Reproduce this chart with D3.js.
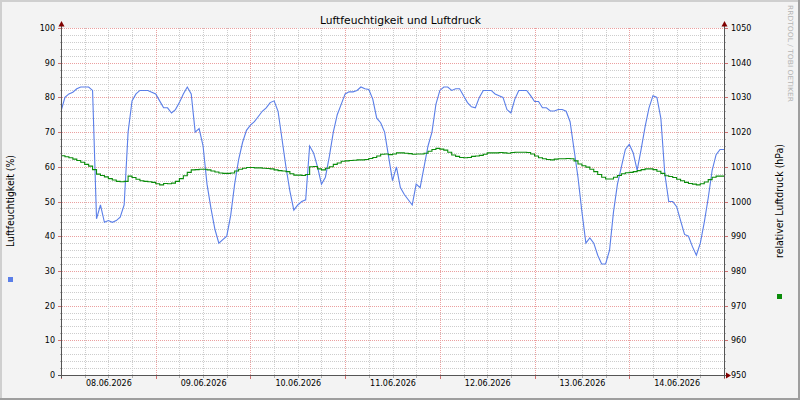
<!DOCTYPE html>
<html>
<head>
<meta charset="utf-8">
<script src="https://cdn.jsdelivr.net/npm/d3@7/dist/d3.min.js"></script>
<style>
  body { margin: 0; background: #f3f3f3; }
  text { font-family: "DejaVu Sans", sans-serif; }
</style>
</head>
<body>
<script>
// hourly readings, starting 08.06.2026 00:00
const humidity = [
  76, 80, 81, 81.5, 82.5, 83, 83, 83, 82, 45, 49, 44, 44.5, 44, 44.5, 45.5,
  49, 70, 79, 81, 82, 82, 82, 81.5, 81, 79, 77, 77, 75.5, 76.5, 78.5, 81,
  83, 81, 70, 71, 66, 55, 48, 42, 38, 39, 40, 46, 55, 62, 67, 70.5,
  72, 73, 74.5, 76, 77, 78.5, 79, 76, 68, 60, 53, 47.5, 49, 50, 50.5, 66,
  64, 60, 55, 57, 63, 70, 75, 78, 81, 81.6, 81.6, 82, 83, 82.5, 82.3, 79.5,
  74, 72.7, 70, 63, 56, 60, 54, 52, 50.5, 49, 55, 54, 60, 66, 70, 78,
  82, 83, 83, 82, 82.5, 82.5, 80.5, 78.5, 77.3, 77, 80, 82, 82, 82, 81, 80.5,
  80, 76.5, 75.5, 79.5, 82, 82, 82, 80.5, 78.8, 78.8, 77, 77, 76.1, 76.1, 76.5, 76.5,
  76, 73, 65, 57, 47, 38, 39.5, 38, 34.5, 32, 32, 36, 47, 55, 60, 65,
  66.5, 64, 59, 65, 71.5, 77, 80.5, 80, 74, 58, 50, 50, 48.5, 44.5, 40.5, 40,
  37, 34.5, 38, 44, 51, 59, 63.5, 65
];
const pressure = [
  1013.2, 1012.9, 1012.6, 1012.2, 1011.8, 1011.3, 1010.7, 1010.2, 1009.2, 1007.9, 1007.5, 1007.1, 1006.6, 1006.2, 1005.8, 1005.7,
  1005.8, 1007.3, 1006.9, 1006.4, 1006.0, 1005.8, 1005.7, 1005.5, 1005.1, 1004.8, 1005.2, 1005.1, 1005.3, 1005.8, 1006.6, 1007.4,
  1008.4, 1009.1, 1009.2, 1009.3, 1009.3, 1009.1, 1008.8, 1008.5, 1008.2, 1008.1, 1008.1, 1008.2, 1008.8, 1009.3, 1009.6, 1009.8,
  1009.8, 1009.7, 1009.7, 1009.6, 1009.5, 1009.4, 1009.1, 1008.9, 1008.8, 1008.6, 1008.0, 1007.6, 1007.6, 1007.5, 1007.8, 1010.0,
  1010.1, 1009.4, 1009.1, 1009.6, 1010.0, 1010.7, 1011.1, 1011.6, 1011.7, 1011.8, 1011.9, 1012.0, 1012.0, 1012.1, 1012.4, 1012.7,
  1013.1, 1013.6, 1013.7, 1013.5, 1013.7, 1014.0, 1014.0, 1013.9, 1013.8, 1013.6, 1013.7, 1013.7, 1013.9, 1014.5, 1015.0, 1015.3,
  1015.1, 1014.8, 1014.2, 1013.4, 1013.0, 1012.7, 1012.6, 1012.7, 1013.0, 1013.1, 1013.3, 1013.6, 1014.0, 1014.0, 1014.0, 1014.1,
  1014.0, 1013.9, 1014.1, 1014.2, 1014.2, 1014.2, 1014.1, 1013.7, 1013.1, 1012.6, 1012.3, 1012.1, 1012.0, 1012.2, 1012.3, 1012.3,
  1012.4, 1012.3, 1011.7, 1010.8, 1010.3, 1009.9, 1009.3, 1008.6, 1007.8, 1007.0, 1006.5, 1006.5, 1007.0, 1007.5, 1008.0, 1008.3,
  1008.4, 1008.6, 1008.9, 1009.2, 1009.4, 1009.4, 1009.2, 1008.7, 1008.1, 1007.4, 1007.2, 1006.9, 1006.4, 1006.0, 1005.5, 1005.2,
  1005.0, 1004.8, 1005.1, 1005.6, 1006.3, 1007.0, 1007.3, 1007.3
];
const days = ["08.06.2026", "09.06.2026", "10.06.2026", "11.06.2026", "12.06.2026", "13.06.2026", "14.06.2026", "15.06.2026"];
const leftTicks = [0, 10, 20, 30, 40, 50, 60, 70, 80, 90, 100];
const rightTicks = [950, 960, 970, 980, 990, 1000, 1010, 1020, 1030, 1040, 1050];

const title = "Luftfeuchtigkeit und Luftdruck";
const leftLabel = "Luftfeuchtigkeit (%)";
const rightLabel = "relativer Luftdruck (hPa)";
const humColor = "#5a7ee8";
const presColor = "#0a8c0a";

const W = 800, H = 400;
const X0 = 61, X1 = 724, Y0 = 375, Y1 = 28;

const parseDay = d3.timeParse("%d.%m.%Y");
const dayDates = days.map(parseDay);
const start = dayDates[0];
const end = dayDates[dayDates.length - 1];

const x = d3.scaleTime().domain([start, end]).range([X0, X1]);
const yL = d3.scaleLinear().domain([0, 100]).range([Y0, Y1]);
const yR = d3.scaleLinear().domain([950, 1050]).range([Y0, Y1]);

const px = v => Math.round(v) + 0.5;

const svg = d3.select("body").append("svg")
    .attr("width", W)
    .attr("height", H);

// dotted grid patterns (1px on, 1px off)
const defs = svg.append("defs");
function dotPattern(id, color, horizontal) {
    const p = defs.append("pattern").attr("id", id)
        .attr("patternUnits", "userSpaceOnUse")
        .attr("width", horizontal ? 2 : 1).attr("height", horizontal ? 1 : 2);
    p.append("rect").attr("width", 1).attr("height", 1).attr("fill", color);
}
const majorGrid = "#eba0a0";
const minorGrid = "#cdcdcd";
dotPattern("hMajor", majorGrid, true);
dotPattern("hMinor", minorGrid, true);
dotPattern("vMajor", majorGrid, false);
dotPattern("vMinor", minorGrid, false);

// background + shaded frame
svg.append("rect").attr("width", W).attr("height", H).attr("fill", "#f3f3f3");
svg.append("path").attr("d", `M0,1H${W}M1,0V${H}`).attr("stroke", "#cfcfcf").attr("stroke-width", 2);
svg.append("path").attr("d", `M0,${H - 1}H${W}M${W - 1},0V${H}`).attr("stroke", "#9e9e9e").attr("stroke-width", 2);

svg.append("rect")
    .attr("x", X0).attr("y", Y1)
    .attr("width", X1 - X0).attr("height", Y0 - Y1)
    .attr("fill", "#ffffff");

// grid
const grid = svg.append("g").attr("shape-rendering", "crispEdges");

d3.range(0, 101, 2).forEach(v => {
    const major = v % 10 === 0;
    const y = Math.round(yL(v));
    grid.append("rect")
        .attr("x", X0 + 1).attr("y", y).attr("width", X1 - X0 - 1).attr("height", 1)
        .attr("fill", major ? "url(#hMajor)" : "url(#hMinor)");
    grid.append("rect")
        .attr("x", X0 - (major ? 3 : 1)).attr("y", y).attr("width", major ? 3 : 1).attr("height", 1)
        .attr("fill", major ? "#d07070" : "#b0b0b0");
    grid.append("rect")
        .attr("x", X1 + 1).attr("y", y).attr("width", major ? 3 : 1).attr("height", 1)
        .attr("fill", major ? "#d07070" : "#b0b0b0");
});

d3.timeHour.every(6).range(start, d3.timeHour.offset(end, 1)).forEach(t => {
    const major = t.getHours() === 0;
    const xx = Math.round(x(t));
    if (xx > X0 + 1 && xx < X1 - 1) {
        grid.append("rect")
            .attr("x", xx).attr("y", Y1).attr("width", 1).attr("height", Y0 - Y1)
            .attr("fill", major ? "url(#vMajor)" : "url(#vMinor)");
    }
    grid.append("rect")
        .attr("x", xx).attr("y", Y0 + 1).attr("width", 1).attr("height", major ? 3 : 2)
        .attr("fill", major ? "#d07070" : "#b0b0b0");
});

// series
const times = humidity.map((d, i) => d3.timeHour.offset(start, i));
const humData = humidity.map((v, i) => ({ t: times[i], v }));
humData.push({ t: end, v: humidity[humidity.length - 1] });
const presData = pressure.map((v, i) => ({ t: times[i], v }));
presData.push({ t: end, v: pressure[pressure.length - 1] });

svg.append("clipPath").attr("id", "plot")
    .append("rect").attr("x", X0).attr("y", Y1).attr("width", X1 - X0).attr("height", Y0 - Y1);

const lineL = d3.line().x(d => x(d.t)).y(d => yL(d.v));
const lineR = d3.line().x(d => x(d.t)).y(d => yR(d.v)).curve(d3.curveStepAfter);

const plot = svg.append("g").attr("clip-path", "url(#plot)");
plot.append("path")
    .datum(humData)
    .attr("d", lineL)
    .attr("fill", "none")
    .attr("stroke", humColor)
    .attr("stroke-width", 1.1);
plot.append("path")
    .datum(presData)
    .attr("d", lineR)
    .attr("fill", "none")
    .attr("stroke", presColor)
    .attr("stroke-width", 1.1);

// axes lines + arrows
const axisCol = "#555555";
const arrowCol = "#800000";
const frame = svg.append("g").attr("shape-rendering", "crispEdges").attr("stroke", axisCol);
frame.append("line").attr("x1", px(X0)).attr("x2", px(X0)).attr("y1", 23).attr("y2", Y0 + 3);
frame.append("line").attr("x1", px(X1)).attr("x2", px(X1)).attr("y1", 23).attr("y2", Y0 + 3);
frame.append("line").attr("x1", X0 - 3).attr("x2", X1 + 3).attr("y1", px(Y0)).attr("y2", px(Y0));

svg.append("path").attr("fill", arrowCol)
    .attr("d", `M${X0 - 2.5},26.5L${X0 + 3.5},26.5L${X0 + 0.5},21z`);
svg.append("path").attr("fill", arrowCol)
    .attr("d", `M${X1 - 2.5},26.5L${X1 + 3.5},26.5L${X1 + 0.5},21z`);
svg.append("path").attr("fill", arrowCol)
    .attr("d", `M${X1 + 2},${Y0 - 2.5}L${X1 + 2},${Y0 + 3.5}L${X1 + 7},${Y0 + 0.5}z`);

// tick labels
const fmt = d3.timeFormat("%d.%m.%Y");
const noons = dayDates.slice(0, -1).map(d => d3.timeHour.offset(d, 12));

svg.append("g")
    .attr("transform", `translate(${X0},0)`)
    .call(d3.axisLeft(yL).tickValues(leftTicks).tickFormat(d3.format("d")).tickSize(0).tickPadding(6))
    .call(g => g.select(".domain").remove())
    .selectAll("text").attr("font-size", 8).attr("font-family", "DejaVu Sans").attr("fill", "#000");

svg.append("g")
    .attr("transform", `translate(${X1},0)`)
    .call(d3.axisRight(yR).tickValues(rightTicks).tickFormat(d3.format("d")).tickSize(0).tickPadding(7))
    .call(g => g.select(".domain").remove())
    .selectAll("text").attr("font-size", 8).attr("font-family", "DejaVu Sans").attr("fill", "#000");

svg.append("g")
    .attr("transform", `translate(0,${Y0})`)
    .call(d3.axisBottom(x).tickValues(noons).tickFormat(fmt).tickSize(0).tickPadding(5))
    .call(g => g.select(".domain").remove())
    .selectAll("text").attr("font-size", 8).attr("font-family", "DejaVu Sans").attr("fill", "#000");

// title and labels
svg.append("text")
    .attr("x", 400.5).attr("y", 24)
    .attr("text-anchor", "middle")
    .attr("font-size", 10.5)
    .attr("textLength", 161).attr("lengthAdjust", "spacingAndGlyphs")
    .text(title);

svg.append("text")
    .attr("transform", "translate(14,201) rotate(-90)")
    .attr("text-anchor", "middle")
    .attr("font-size", 10)
    .attr("textLength", 92).attr("lengthAdjust", "spacingAndGlyphs")
    .text(leftLabel);

svg.append("text")
    .attr("transform", "translate(783,201) rotate(-90)")
    .attr("text-anchor", "middle")
    .attr("font-size", 10)
    .attr("textLength", 114).attr("lengthAdjust", "spacingAndGlyphs")
    .text(rightLabel);

svg.append("rect").attr("x", 8).attr("y", 277).attr("width", 5).attr("height", 5).attr("fill", humColor);
svg.append("rect").attr("x", 777).attr("y", 294).attr("width", 5).attr("height", 5).attr("fill", presColor);

svg.append("text")
    .attr("transform", "translate(788,5) rotate(90)")
    .attr("font-family", "DejaVu Sans Mono")
    .attr("font-size", 7)
    .attr("fill", "#b4b4b4")
    .attr("textLength", 97).attr("lengthAdjust", "spacingAndGlyphs")
    .text("RRDTOOL / TOBI OETIKER");
</script>
</body>
</html>
